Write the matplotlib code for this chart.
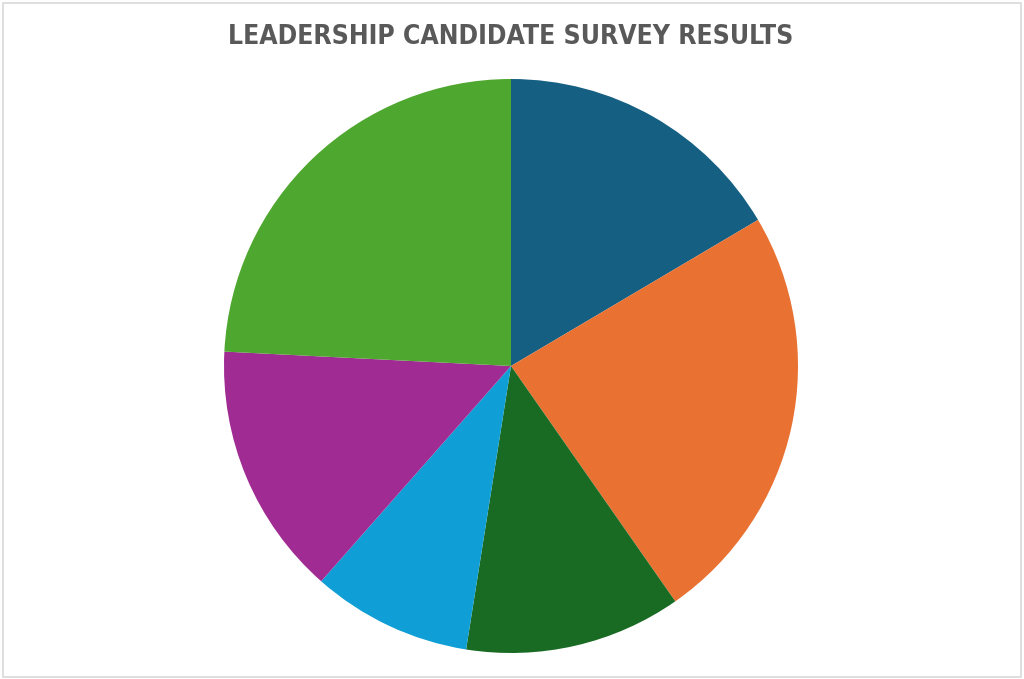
import matplotlib.pyplot as plt
from matplotlib.patches import Rectangle

# survey shares (percent), clockwise from 12 o'clock
candidates = ['Candidate A', 'Candidate B', 'Candidate C', 'Candidate D', 'Candidate E', 'Candidate F']
shares = [16.5, 23.8, 12.2, 9.0, 14.3, 24.2]
colors = ['#156082', '#E97132', '#196B24', '#0F9ED5', '#A02B93', '#4EA72E']

W, H = 1024, 679
fig = plt.figure(figsize=(W / 100, H / 100), dpi=100)

# light frame around the chart area
fig.patches.append(Rectangle((2.5 / W, 2.5 / H), 1 - 5.5 / W, 1 - 5 / H,
                             transform=fig.transFigure, fill=False,
                             edgecolor='#d9d9d9', linewidth=1.2))

cx, cy, r = 511, 366, 287
ax = fig.add_axes([(cx - r) / W, (H - cy - r) / H, 2 * r / W, 2 * r / H])
ax.pie(shares, colors=colors, startangle=90, counterclock=False,
       radius=1, wedgeprops=dict(linewidth=0))
ax.set_xlim(-1, 1)
ax.set_ylim(-1, 1)
ax.set_aspect('equal')
ax.axis('off')

fig.text(511 / W, 1 - 37 / H, 'LEADERSHIP CANDIDATE SURVEY RESULTS',
         ha='center', va='center', fontsize=19, fontweight='bold',
         fontstretch='condensed', color='#595959', family='DejaVu Sans')

fig.savefig('out.png', dpi=100)
